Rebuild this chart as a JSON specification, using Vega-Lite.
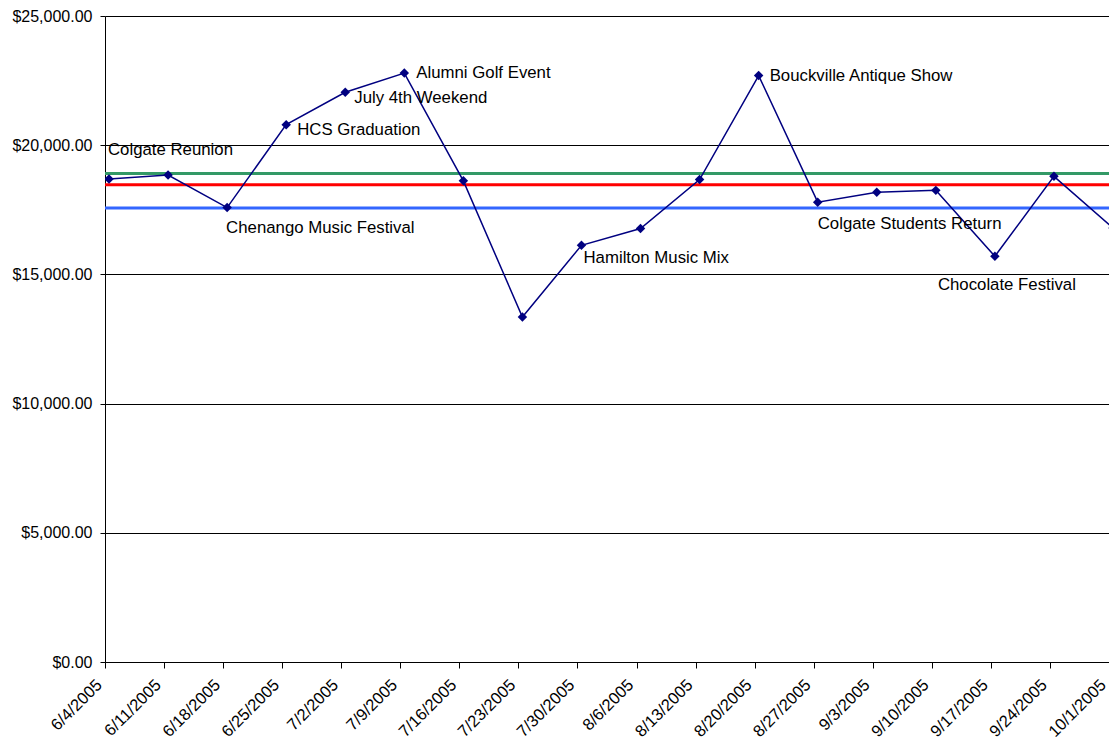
{
  "$schema": "https://vega.github.io/schema/vega-lite/v6.json",
  "width": 1004,
  "height": 646,
  "autosize": {"type": "none"},
  "padding": {"left": 105, "top": 16, "right": 0, "bottom": 83},
  "background": "white",
  "config": {
    "view": {"stroke": null},
    "font": "Liberation Sans",
    "text": {"font": "Liberation Sans", "fontSize": 16.8, "color": "black", "align": "left", "baseline": "middle"}
  },
  "datasets": {
    "sales": [
      {"week": "2005-06-04", "sales": 18690, "event": "Colgate Reunion"},
      {"week": "2005-06-11", "sales": 18845, "event": null},
      {"week": "2005-06-18", "sales": 17585, "event": "Chenango Music Festival"},
      {"week": "2005-06-25", "sales": 20795, "event": "HCS Graduation"},
      {"week": "2005-07-02", "sales": 22050, "event": "July 4th Weekend"},
      {"week": "2005-07-09", "sales": 22790, "event": "Alumni Golf Event"},
      {"week": "2005-07-16", "sales": 18620, "event": null},
      {"week": "2005-07-23", "sales": 13350, "event": null},
      {"week": "2005-07-30", "sales": 16125, "event": "Hamilton Music Mix"},
      {"week": "2005-08-06", "sales": 16775, "event": null},
      {"week": "2005-08-13", "sales": 18670, "event": null},
      {"week": "2005-08-20", "sales": 22695, "event": "Bouckville Antique Show"},
      {"week": "2005-08-27", "sales": 17795, "event": "Colgate Students Return"},
      {"week": "2005-09-03", "sales": 18175, "event": null},
      {"week": "2005-09-10", "sales": 18252, "event": null},
      {"week": "2005-09-17", "sales": 15700, "event": "Chocolate Festival"},
      {"week": "2005-09-24", "sales": 18795, "event": null},
      {"week": "2005-10-01", "sales": 16800, "event": null}
    ],
    "refs": [
      {"series": "green", "value": 18909},
      {"series": "red", "value": 18472},
      {"series": "blue", "value": 17568}
    ]
  },
  "layer": [
    {
      "data": {"name": "refs"},
      "mark": {"type": "rule", "strokeWidth": 3},
      "encoding": {
        "y": {"field": "value", "type": "quantitative", "title": null},
        "color": {
          "field": "series", "type": "nominal", "legend": null,
          "scale": {"domain": ["green", "red", "blue"], "range": ["#339966", "#ff0000", "#3366ff"]}
        }
      }
    },
    {
      "data": {"name": "sales"},
      "mark": {"type": "line", "color": "#000080", "strokeWidth": 1.5, "clip": true},
      "encoding": {
        "x": {
          "field": "week", "type": "temporal", "title": null,
          "scale": {
            "type": "utc",
            "domain": [
              {"year": 2005, "month": 6, "date": 3, "hours": 12, "minutes": 37, "utc": true},
              {"year": 2005, "month": 9, "date": 30, "hours": 12, "minutes": 37, "utc": true}
            ]
          },
          "axis": {
            "values": [
              {"year": 2005, "month": 6, "date": 3, "hours": 12, "minutes": 37, "utc": true},
              {"year": 2005, "month": 6, "date": 10, "hours": 12, "minutes": 37, "utc": true},
              {"year": 2005, "month": 6, "date": 17, "hours": 12, "minutes": 37, "utc": true},
              {"year": 2005, "month": 6, "date": 24, "hours": 12, "minutes": 37, "utc": true},
              {"year": 2005, "month": 7, "date": 1, "hours": 12, "minutes": 37, "utc": true},
              {"year": 2005, "month": 7, "date": 8, "hours": 12, "minutes": 37, "utc": true},
              {"year": 2005, "month": 7, "date": 15, "hours": 12, "minutes": 37, "utc": true},
              {"year": 2005, "month": 7, "date": 22, "hours": 12, "minutes": 37, "utc": true},
              {"year": 2005, "month": 7, "date": 29, "hours": 12, "minutes": 37, "utc": true},
              {"year": 2005, "month": 8, "date": 5, "hours": 12, "minutes": 37, "utc": true},
              {"year": 2005, "month": 8, "date": 12, "hours": 12, "minutes": 37, "utc": true},
              {"year": 2005, "month": 8, "date": 19, "hours": 12, "minutes": 37, "utc": true},
              {"year": 2005, "month": 8, "date": 26, "hours": 12, "minutes": 37, "utc": true},
              {"year": 2005, "month": 9, "date": 2, "hours": 12, "minutes": 37, "utc": true},
              {"year": 2005, "month": 9, "date": 9, "hours": 12, "minutes": 37, "utc": true},
              {"year": 2005, "month": 9, "date": 16, "hours": 12, "minutes": 37, "utc": true},
              {"year": 2005, "month": 9, "date": 23, "hours": 12, "minutes": 37, "utc": true},
              {"year": 2005, "month": 9, "date": 30, "hours": 12, "minutes": 37, "utc": true}
            ],
            "labelExpr": "utcFormat(datum.value + 41000000, '%-m/%-d/%Y')",
            "grid": false,
            "domainColor": "black",
            "tickColor": "black",
            "tickSize": 6,
            "labelAngle": -45,
            "labelAlign": "right",
            "labelBaseline": "middle",
            "labelPadding": 14,
            "labelOffset": -6,
            "labelFontSize": 16.5,
            "labelColor": "black",
            "labelFont": "Liberation Sans",
            "labelOverlap": false,
            "labelBound": false,
            "labelFlush": false
          }
        },
        "y": {
          "field": "sales", "type": "quantitative", "title": null,
          "scale": {"domain": [0, 25000], "nice": false},
          "axis": {
            "values": [0, 5000, 10000, 15000, 20000, 25000],
            "format": "$,.2f",
            "grid": true,
            "gridColor": "black",
            "gridWidth": 1,
            "domainColor": "black",
            "tickColor": "black",
            "tickSize": 5,
            "labelPadding": 8,
            "labelFontSize": 16,
            "labelColor": "black",
            "labelFont": "Liberation Sans"
          }
        }
      }
    },
    {
      "data": {"name": "sales"},
      "mark": {"type": "point", "shape": "diamond", "size": 90, "filled": true, "opacity": 1, "color": "#000080", "clip": true},
      "encoding": {
        "x": {"field": "week", "type": "temporal"},
        "y": {"field": "sales", "type": "quantitative"}
      }
    },
    {
      "data": {"name": "sales"},
      "transform": [{"filter": "datum.event === 'Colgate Reunion'"}],
      "mark": {"type": "text", "dx": -1, "dy": -29},
      "encoding": {"x": {"field": "week", "type": "temporal"}, "y": {"field": "sales", "type": "quantitative"}, "text": {"field": "event"}}
    },
    {
      "data": {"name": "sales"},
      "transform": [{"filter": "datum.event === 'Chenango Music Festival'"}],
      "mark": {"type": "text", "dx": -1, "dy": 20},
      "encoding": {"x": {"field": "week", "type": "temporal"}, "y": {"field": "sales", "type": "quantitative"}, "text": {"field": "event"}}
    },
    {
      "data": {"name": "sales"},
      "transform": [{"filter": "datum.event === 'HCS Graduation'"}],
      "mark": {"type": "text", "dx": 11, "dy": 5},
      "encoding": {"x": {"field": "week", "type": "temporal"}, "y": {"field": "sales", "type": "quantitative"}, "text": {"field": "event"}}
    },
    {
      "data": {"name": "sales"},
      "transform": [{"filter": "datum.event === 'July 4th Weekend'"}],
      "mark": {"type": "text", "dx": 9, "dy": 6},
      "encoding": {"x": {"field": "week", "type": "temporal"}, "y": {"field": "sales", "type": "quantitative"}, "text": {"field": "event"}}
    },
    {
      "data": {"name": "sales"},
      "transform": [{"filter": "datum.event === 'Alumni Golf Event'"}],
      "mark": {"type": "text", "dx": 12, "dy": 0},
      "encoding": {"x": {"field": "week", "type": "temporal"}, "y": {"field": "sales", "type": "quantitative"}, "text": {"field": "event"}}
    },
    {
      "data": {"name": "sales"},
      "transform": [{"filter": "datum.event === 'Hamilton Music Mix'"}],
      "mark": {"type": "text", "dx": 2, "dy": 13},
      "encoding": {"x": {"field": "week", "type": "temporal"}, "y": {"field": "sales", "type": "quantitative"}, "text": {"field": "event"}}
    },
    {
      "data": {"name": "sales"},
      "transform": [{"filter": "datum.event === 'Bouckville Antique Show'"}],
      "mark": {"type": "text", "dx": 11, "dy": 0},
      "encoding": {"x": {"field": "week", "type": "temporal"}, "y": {"field": "sales", "type": "quantitative"}, "text": {"field": "event"}}
    },
    {
      "data": {"name": "sales"},
      "transform": [{"filter": "datum.event === 'Colgate Students Return'"}],
      "mark": {"type": "text", "dx": 0, "dy": 22},
      "encoding": {"x": {"field": "week", "type": "temporal"}, "y": {"field": "sales", "type": "quantitative"}, "text": {"field": "event"}}
    },
    {
      "data": {"name": "sales"},
      "transform": [{"filter": "datum.event === 'Chocolate Festival'"}],
      "mark": {"type": "text", "dx": -57, "dy": 29},
      "encoding": {"x": {"field": "week", "type": "temporal"}, "y": {"field": "sales", "type": "quantitative"}, "text": {"field": "event"}}
    }
  ]
}
